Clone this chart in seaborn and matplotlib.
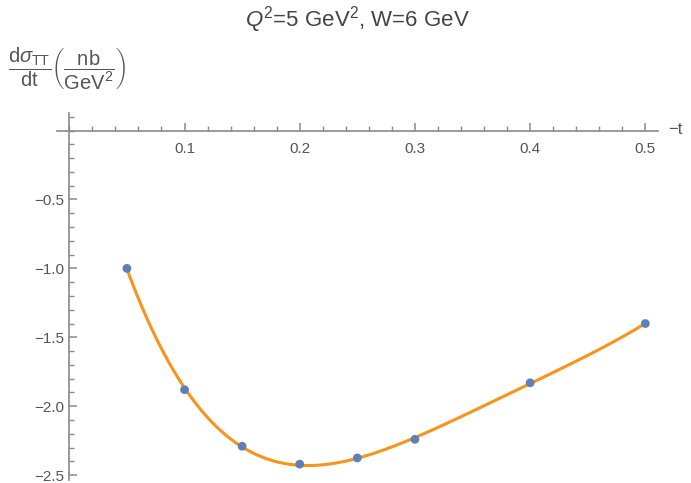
import numpy as np
import pandas as pd
import seaborn as sns
import matplotlib
matplotlib.use("Agg")
import matplotlib.pyplot as plt
from matplotlib.ticker import MultipleLocator, FixedLocator

# data
minus_t = [0.05, 0.10, 0.15, 0.20, 0.25, 0.30, 0.40, 0.50]
dsigma_tt = [-1.00, -1.88, -2.29, -2.42, -2.375, -2.24, -1.83, -1.40]
x_ticks = [0.1, 0.2, 0.3, 0.4, 0.5]
y_ticks = [-0.5, -1.0, -1.5, -2.0, -2.5]

df = pd.DataFrame({"t": minus_t, "ds": dsigma_tt})

sns.set_style("white")
plt.rcParams['font.family'] = ['Liberation Sans', 'DejaVu Sans']
plt.rcParams['mathtext.fontset'] = 'custom'
plt.rcParams['mathtext.rm'] = 'Liberation Sans'
plt.rcParams['mathtext.it'] = 'Liberation Sans:italic'

fig = plt.figure(figsize=(6.91, 4.83), dpi=100)
ax = fig.add_axes([57/691, 1-480/483, (658-57)/691, (480-113)/483])

axis_col = '#8a8a8a'
label_col = '#555555'

sns.regplot(data=df, x="t", y="ds", order=4, ci=None, scatter=False, ax=ax,
            line_kws=dict(color='#F7941D', lw=2.2), truncate=True)
sns.scatterplot(data=df, x="t", y="ds", ax=ax, color='#5E81B5', s=40,
                edgecolor='none', zorder=5)

ax.set_xlim(-0.0107, 0.511)
ax.set_ylim(-2.535, 0.127)

for s in ['top', 'right']:
    ax.spines[s].set_visible(False)
ax.spines['left'].set_position(('data', 0))
ax.spines['bottom'].set_position(('data', 0))
for s in ['left', 'bottom']:
    ax.spines[s].set_color(axis_col)
    ax.spines[s].set_linewidth(1.2)

ax.xaxis.set_major_locator(FixedLocator(x_ticks))
ax.xaxis.set_minor_locator(MultipleLocator(0.02))
ax.yaxis.set_major_locator(FixedLocator(y_ticks))
ax.yaxis.set_minor_locator(MultipleLocator(0.1))
ax.set_xticklabels([f"{v:.1f}" for v in x_ticks])
ax.set_yticklabels([f"\u2212{abs(v):.1f}" for v in y_ticks])

ax.tick_params(axis='both', which='both', bottom=True, left=True, top=False, right=False)
ax.tick_params(axis='both', which='major', direction='in', length=6, width=1.1,
               color=axis_col, labelcolor=label_col, labelsize=11)
ax.tick_params(axis='both', which='minor', direction='in', length=3.5, width=1.0,
               color=axis_col)
ax.tick_params(axis='x', which='major', pad=8)
ax.tick_params(axis='y', which='major', pad=4)
ax.set_xlabel('')
ax.set_ylabel('')

fig.text(357/691, 1-20/483, r'$Q^2$=5 GeV$^2$, W=6 GeV', ha='center', va='center',
         fontsize=16, color='#444444')
fig.text(668/691, 1-130/483, '\u2212t', ha='left', va='center', fontsize=12,
         color=label_col)
fig.text(8/691, 1-69/483,
         r'$\dfrac{\mathrm{d}\sigma_{\mathrm{TT}}}{\mathrm{dt}}\left(\dfrac{\mathrm{nb}}{\mathrm{GeV}^{2}}\right)$',
         ha='left', va='center', fontsize=14.5, color=label_col)

fig.savefig('out.png', dpi=100)
